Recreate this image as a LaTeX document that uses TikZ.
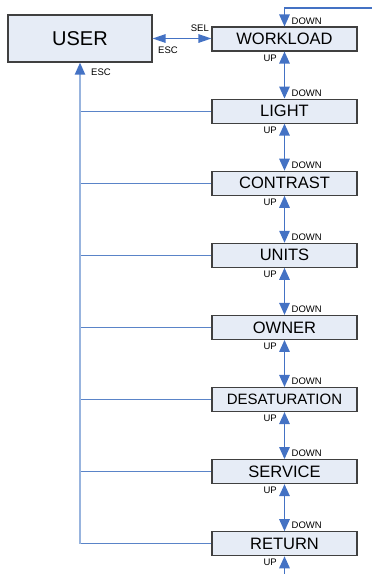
\documentclass[tikz,border=0pt]{standalone}
\usepackage{fontspec}
\setmainfont{Liberation Sans}
\usetikzlibrary{arrows.meta,calc}
\definecolor{arrowblue}{RGB}{68,114,196}
\definecolor{esclight}{RGB}{152,180,222}
\definecolor{hlineblue}{RGB}{90,132,200}
\definecolor{boxfill}{RGB}{230,236,246}
\definecolor{boxdraw}{RGB}{64,64,64}
\begin{document}
\begin{tikzpicture}[x=1pt,y=-1pt,
  menubox/.style={draw=boxdraw, line width=1.1pt, fill=boxfill, minimum width=145pt, minimum height=24pt, inner sep=0pt, font=\fontsize{16.5}{18}\selectfont},
  lbl/.style={inner sep=0pt, font=\fontsize{9.5}{10}\selectfont},
  nav/.style={draw=arrowblue, line width=1.4pt, -{Triangle[width=10.5pt,length=12pt]}},
  navboth/.style={draw=arrowblue, line width=1.4pt, {Triangle[width=10.5pt,length=12pt]}-{Triangle[width=10.5pt,length=12pt]}},
  navh/.style={draw=arrowblue, line width=1.4pt, {Triangle[width=8.5pt,length=13pt]}-{Triangle[width=8.5pt,length=13pt]}},
  escline/.style={draw=esclight, line width=2pt, -{Triangle[width=10pt,length=12pt,color=arrowblue]}},
  hl/.style={draw=hlineblue, line width=0.9pt}
]
\useasboundingbox (0,0) rectangle (372,574);

\node[menubox, minimum width=144pt, minimum height=47pt, font=\fontsize{20}{22}\selectfont] (user) at (80,38.5) {USER};

\node[menubox] (b0) at (284.5,39) {WORKLOAD};
\node[menubox] (b1) at (284.5,111.1) {LIGHT};
\node[menubox] (b2) at (284.5,183.2) {CONTRAST};
\node[menubox] (b3) at (284.5,255.3) {UNITS};
\node[menubox] (b4) at (284.5,327.4) {OWNER};
\node[menubox, font=\fontsize{15}{17}\selectfont] (b5) at (284.5,399.5) {DESATURATION};
\node[menubox] (b6) at (284.5,471.6) {SERVICE};
\node[menubox] (b7) at (284.5,543.7) {RETURN};

% ESC return lines
\foreach \i in {1,...,7} {
  \draw[hl] (user.south |- b\i.west) -- (b\i.west);
}
\draw[escline] (user.south |- b7.west) -- (user.south);
\node[lbl, anchor=west] (escv) at (91,72.5) {ESC};

% USER <-> WORKLOAD
\draw[navh] (user.east) -- (user.east -| b0.west);
\node[lbl, anchor=east] (sel) at (209,28.5) {SEL};
\node[lbl, anchor=west] (esch) at (158,50.5) {ESC};

% top wrap-around arrow
\coordinate (topright) at (372,8);
\draw[nav] (topright) -- (topright -| b0.north) -- (b0.north);

% up/down arrows between menu items
\foreach \i/\j in {0/1,1/2,2/3,3/4,4/5,5/6,6/7} {
  \draw[navboth] (b\i.south) -- (b\j.north);
}
\coordinate (bottomend) at (284.5,574);
\draw[nav] (bottomend) -- (b7.south);

% labels
\foreach \i in {0,...,7} {
  \node[lbl, anchor=west] (down\i) at ($(b\i.north)+(7,-5.5)$) {DOWN};
  \node[lbl, anchor=east] (up\i) at ($(b\i.south)+(-7.5,6.5)$) {UP};
}
\end{tikzpicture}
\end{document}
